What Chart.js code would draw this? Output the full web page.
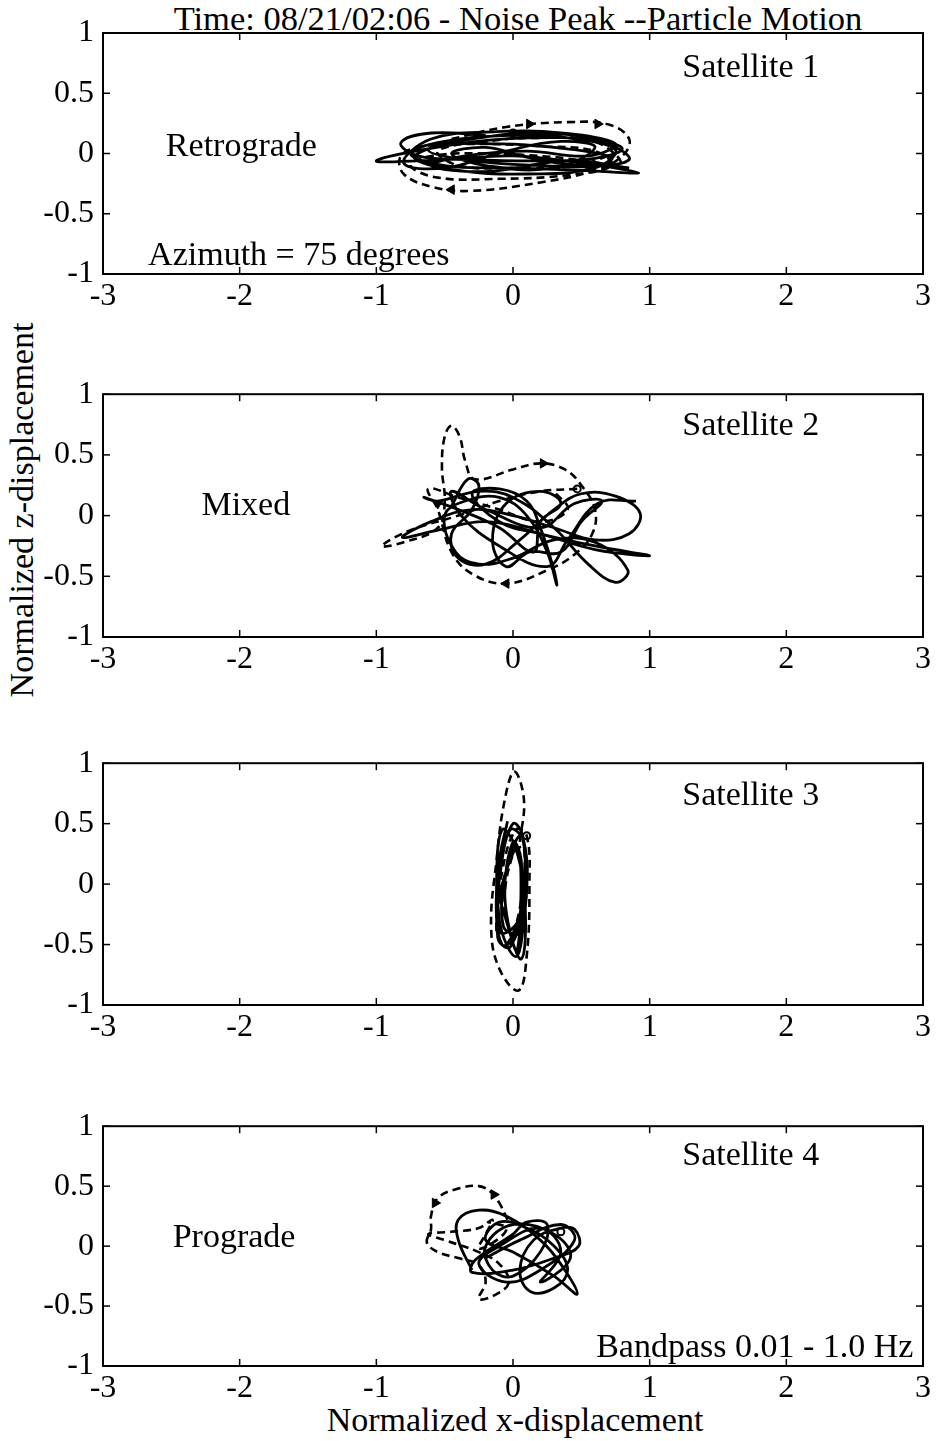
<!DOCTYPE html>
<html>
<head>
<meta charset="utf-8">
<script src="https://cdn.jsdelivr.net/npm/chart.js@4/dist/chart.umd.min.js"></script>
<style>
  html, body { margin: 0; padding: 0; background: #fff; }
  #wrap { position: relative; width: 937px; height: 1441px; overflow: hidden; background: #fff; }
  #wrap canvas { position: absolute; left: 0; }
  .lbl { position: absolute; font-family: 'Liberation Serif', 'Times New Roman', serif; color: #000; white-space: nowrap; }
  #title { left: 518px; top: 1px; font-size: 34.5px; line-height: 34px; transform: translateX(-50%); }
  #xtitle { left: 515px; top: 1402px; font-size: 34px; line-height: 36px; transform: translateX(-50%); }
  #ytitle { left: 22px; top: 510px; font-size: 34px; line-height: 36px; transform: translate(-50%, -50%) rotate(-90deg); }
</style>
</head>
<body>
<div id="wrap">
  <div class="lbl" id="title">Time: 08/21/02:06 - Noise Peak --Particle Motion</div>
  <div class="lbl" id="ytitle">Normalized z-displacement</div>
  <div class="lbl" id="xtitle">Normalized x-displacement</div>
  <canvas id="sat1"></canvas>
  <canvas id="sat2"></canvas>
  <canvas id="sat3"></canvas>
  <canvas id="sat4"></canvas>
</div>
<script>
// Axis ticks shared by all four panels
const xTicks = [-3, -2, -1, 0, 1, 2, 3];
const zTicks = [-1, -0.5, 0, 0.5, 1];

// Satellite 1 particle motion (x, z): vertical (solid) and horizontal (dashed) components
const sat1Solid = [
  [-0.2,0.15],[-0.6,0.17],[-0.82,0.09],[-0.7,-0.02],[-0.3,-0.05],[0.2,-0.06],[0.6,-0.04],[0.8,0.04],
  [0.6,0.11],[0.1,0.13],[-0.4,0.08],[-1.0,-0.06],[-0.5,-0.05],[0.0,-0.02],[0.5,-0.08],[0.92,-0.16],
  [0.5,-0.14],[0.0,-0.12],[-0.5,-0.1],[-0.75,0.0],[-0.5,0.1],[0.0,0.15],[0.4,0.13],[0.75,0.03],
  [0.6,-0.12],[0.1,-0.17],[-0.4,-0.14],[-0.72,-0.04],[-0.55,0.06],[-0.1,0.08],[0.3,0.05],[0.72,-0.03],
  [0.65,-0.1],[0.2,-0.1],[-0.3,-0.06],[-0.62,0.03],[-0.3,0.12],[0.2,0.17],[0.65,0.1],[0.85,-0.05],
  [0.5,-0.1],[0.1,-0.03],[-0.2,0.05],[-0.45,0.0],[-0.2,-0.1],[0.3,-0.12],[0.6,0.05],[0.35,0.1],
  [-0.05,0.02],[-0.5,-0.12],[-0.8,-0.08],[-0.6,0.12],[-0.15,0.18],[0.35,0.17],[0.75,0.08],[0.55,-0.02],
  [0.1,0.02],[-0.35,-0.02],[-0.6,-0.1],[-0.2,-0.15],[0.4,-0.06],[0.85,-0.12]
];
const sat1Dashed = [
  [-0.45,0.12],[-0.05,0.22],[0.4,0.26],[0.7,0.24],[0.85,0.12],[0.8,-0.02],[0.6,-0.14],[0.2,-0.24],
  [-0.3,-0.31],[-0.58,-0.28],[-0.8,-0.17],[-0.82,-0.02],[-0.65,0.06],[-0.3,0.08],[0.2,0.06],[0.6,0.02],
  [0.72,-0.1],[0.4,-0.18],[-0.1,-0.21],[-0.55,-0.2],[-0.75,-0.1],[-0.6,-0.02],[-0.2,0.0],[0.3,-0.03],
  [0.78,-0.08],[0.6,0.1],[0.2,0.13],[-0.2,0.1],[-0.55,0.02],[-0.4,-0.1],[0.0,-0.12],[0.45,-0.1],
  [0.8,0.02]
];
const sat1Arrows = [[0.12,0.245,90],[0.62,0.245,90],[-0.45,-0.3,270]];
const sat1Rings = [[0.0,0.17]];

// Satellite 2 particle motion
const sat2Solid = [
  [-0.45,0.08],[-0.33,0.3],[-0.25,0.25],[-0.3,0.05],[-0.45,-0.15],[-0.4,-0.35],[-0.2,-0.4],[0.05,-0.2],
  [0.3,0.05],[0.5,0.18],[0.75,0.16],[0.93,0.02],[0.85,-0.15],[0.6,-0.2],[0.3,-0.1],[0.0,0.0],
  [-0.3,0.05],[-0.6,-0.05],[-0.81,-0.18],[-0.55,-0.12],[-0.2,-0.05],[0.2,-0.15],[0.6,-0.28],[1.0,-0.33],
  [0.6,-0.25],[0.2,-0.15],[-0.1,-0.05],[-0.3,0.18],[-0.1,0.22],[0.1,0.12],[0.2,-0.1],[0.3,-0.45],
  [0.32,-0.57],[0.25,-0.3],[0.1,0.0],[-0.1,0.15],[-0.35,0.12],[-0.5,0.0],[-0.42,-0.3],[-0.25,-0.4],
  [0.0,-0.35],[0.3,-0.2],[0.6,-0.22],[0.84,-0.45],[0.75,-0.55],[0.55,-0.4],[0.3,-0.1],[0.0,0.15],
  [-0.25,0.2],[-0.55,0.12],[-0.65,0.15],[-0.4,0.05],[-0.1,-0.1],[0.15,-0.3],[0.2,-0.05],[0.35,0.1],
  [0.2,0.2],[-0.05,0.1],[-0.15,-0.2],[-0.05,-0.42],[0.12,-0.3],[0.35,-0.3],[0.5,-0.05],[0.65,0.12],
  [0.45,0.1],[0.2,-0.1],[-0.2,0.05],[-0.45,0.2],[-0.38,0.0],[-0.1,-0.25],[0.25,-0.42],[0.4,-0.2],
  [0.62,0.1],[0.9,0.12]
];
const sat2Dashed = [
  [0.47,0.22],[0.2,0.2],[-0.1,0.12],[-0.4,0.0],[-0.75,-0.12],[-0.96,-0.25],[-0.8,-0.22],[-0.55,-0.1],
  [-0.5,0.1],[-0.52,0.4],[-0.5,0.65],[-0.45,0.74],[-0.39,0.65],[-0.35,0.45],[-0.28,0.3],[0.0,0.38],
  [0.2,0.43],[0.38,0.38],[0.5,0.25],[0.6,0.05],[0.58,-0.15],[0.45,-0.32],[0.25,-0.45],[-0.05,-0.56],
  [-0.3,-0.48],[-0.45,-0.3],[-0.55,0.05],[-0.62,0.22],[-0.4,0.15],[-0.1,0.05],[0.2,-0.05],[0.4,0.05],
  [0.3,0.2]
];
const sat2Arrows = [[0.22,0.43,90],[-0.05,-0.56,270],[-0.55,0.1,180]];
const sat2Rings = [[0.47,0.22]];

// Satellite 3 particle motion
const sat3Solid = [
  [-0.04,0.52],[-0.1,0.2],[-0.12,-0.2],[-0.08,-0.5],[0.0,-0.45],[0.08,0.0],[0.07,0.4],[0.0,0.5],
  [-0.08,0.2],[-0.1,-0.3],[0.02,-0.6],[0.08,-0.3],[0.1,0.2],[0.05,0.4],[-0.05,0.1],[-0.07,-0.35],
  [0.05,-0.4],[0.06,0.2],[0.0,0.35],[-0.06,-0.1],[0.03,-0.55],[0.04,0.3],[-0.09,-0.05],[-0.11,-0.45],
  [-0.02,-0.52],[0.09,-0.1],[0.08,0.35],[-0.02,0.45],[-0.11,0.05],[-0.05,-0.3],[0.06,-0.62],[0.09,-0.2],
  [0.02,0.3],[-0.08,0.45],[-0.12,0.0],[-0.09,-0.4],[0.04,-0.3],[0.1,0.1],[0.06,0.45]
];
const sat3Dashed = [
  [0.05,0.35],[0.08,0.7],[0.01,0.93],[-0.06,0.7],[-0.12,0.2],[-0.16,-0.36],[-0.1,-0.7],[0.04,-0.88],
  [0.1,-0.6],[0.12,0.0],[0.1,0.4],[0.02,0.45],[-0.08,0.1],[-0.12,-0.4],[-0.05,-0.5],[0.05,-0.2],
  [0.08,0.3],[0.0,0.25],[-0.06,-0.2],[0.03,-0.45],[0.1,-0.1]
];
const sat3Arrows = [];
const sat3Rings = [[0.1,0.4]];

// Satellite 4 particle motion
const sat4Solid = [
  [-0.3,-0.2],[-0.4,0.05],[-0.4,0.22],[-0.25,0.3],[-0.05,0.25],[0.2,0.05],[0.35,-0.15],[0.47,-0.4],
  [0.3,-0.25],[0.0,-0.05],[-0.2,0.05],[-0.1,0.2],[0.1,0.15],[0.3,0.0],[0.4,-0.2],[0.3,-0.35],
  [0.13,-0.38],[0.05,-0.2],[0.15,0.05],[0.35,0.15],[0.45,0.14],[0.48,0.0],[0.3,-0.1],[0.0,-0.2],
  [-0.3,-0.22],[-0.28,-0.12],[0.0,0.1],[0.1,0.2],[0.25,0.18],[0.2,-0.05],[0.0,-0.25],[-0.15,-0.2],
  [-0.2,0.0],[0.0,0.18],[0.3,0.1],[0.42,-0.1],[0.2,-0.3],[0.35,-0.05],[0.2,0.15],[-0.1,0.0],
  [-0.25,-0.15],[-0.05,-0.3],[0.2,-0.2],[0.45,0.05],[0.35,0.18],[0.05,0.05],[-0.2,-0.1]
];
const sat4Dashed = [
  [-0.04,0.22],[-0.1,0.36],[-0.15,0.44],[-0.25,0.5],[-0.4,0.48],[-0.55,0.4],[-0.6,0.25],[-0.6,0.14],
  [-0.63,0.03],[-0.55,-0.05],[-0.4,-0.1],[-0.25,-0.16],[-0.2,-0.3],[-0.25,-0.44],[-0.12,-0.4],[-0.03,-0.3],
  [-0.1,-0.15],[-0.25,-0.05],[-0.5,0.05],[-0.62,0.1],[-0.45,0.12],[-0.25,0.15],[-0.15,0.22],[-0.2,0.1],
  [-0.25,-0.02],[-0.12,0.05],[-0.05,0.15],[-0.18,0.2]
];
const sat4Arrows = [[-0.57,0.36,210],[-0.14,0.43,330]];
const sat4Rings = [[0.35,0.12]];

const SERIF = "'Liberation Serif', 'Times New Roman', serif";

// Box, inward tick marks and in-panel annotations
const framePlugin = {
  id: 'frame',
  afterDraw(chart, args, opts) {
    const { ctx, chartArea: a, scales: { x, y } } = chart;
    ctx.save();
    ctx.strokeStyle = '#000';
    ctx.lineWidth = 2;
    ctx.strokeRect(a.left, a.top, a.right - a.left, a.bottom - a.top);
    ctx.lineWidth = 1.5;
    const L = 7;
    const seg = (x1, y1, x2, y2) => { ctx.beginPath(); ctx.moveTo(x1, y1); ctx.lineTo(x2, y2); ctx.stroke(); };
    x.ticks.forEach(t => {
      const p = x.getPixelForValue(t.value);
      seg(p, a.bottom, p, a.bottom - L);
      seg(p, a.top, p, a.top + L);
    });
    y.ticks.forEach(t => {
      const p = y.getPixelForValue(t.value);
      seg(a.left, p, a.left + L, p);
      seg(a.right, p, a.right - L, p);
    });
    ctx.fillStyle = '#000';
    ctx.font = '34px ' + SERIF;
    ctx.textBaseline = 'middle';
    (opts.notes || []).forEach(n => {
      ctx.textAlign = n.align;
      ctx.fillText(n.text, x.getPixelForValue(n.x), y.getPixelForValue(n.y));
    });
    ctx.restore();
  }
};

function toPts(list) { return list.map(p => ({ x: p[0], y: p[1] })); }

function makePanel(id, boxTop, boxBottom, padTop, solid, dashed, arrows, rings, notes) {
  const axisH = 45;
  const cv = document.getElementById(id);
  const h = padTop + (boxBottom - boxTop) + axisH;
  cv.width = 937; cv.height = h;
  cv.style.width = '937px'; cv.style.height = h + 'px';
  cv.style.top = (boxTop - padTop) + 'px';
  const line = { borderColor: '#000', pointRadius: 0, tension: 0.4, fill: false, showLine: true };
  new Chart(cv, {
    type: 'line',
    data: {
      datasets: [
        Object.assign({ label: 'vertical', data: toPts(solid), borderWidth: 2.8 }, line),
        Object.assign({ label: 'horizontal', data: toPts(dashed), borderWidth: 2.6, borderDash: [8, 5] }, line),
        { label: 'arrows', data: toPts(arrows), showLine: false, pointStyle: 'triangle',
          pointRadius: 5.5, pointRotation: arrows.map(a => a[2]), backgroundColor: '#000', borderColor: '#000', borderWidth: 1 },
        { label: 'start', data: toPts(rings), showLine: false, pointStyle: 'circle',
          pointRadius: 3.5, backgroundColor: '#fff', borderColor: '#000', borderWidth: 2 }
      ]
    },
    options: {
      responsive: false,
      animation: false,
      devicePixelRatio: 1,
      layout: { padding: { top: padTop, right: 14, left: 0, bottom: 0 } },
      plugins: { legend: { display: false }, tooltip: { enabled: false }, frame: { notes } },
      scales: {
        x: {
          type: 'linear', min: xTicks[0], max: xTicks[xTicks.length - 1],
          afterBuildTicks: s => { s.ticks = xTicks.map(v => ({ value: v })); },
          afterFit: s => { s.height = axisH; },
          grid: { display: false, drawTicks: false }, border: { display: false },
          ticks: { color: '#000', padding: 3, maxRotation: 0, callback: v => String(v),
                   font: { family: SERIF, size: 32 } }
        },
        y: {
          type: 'linear', min: zTicks[0], max: zTicks[zTicks.length - 1],
          afterBuildTicks: s => { s.ticks = zTicks.map(v => ({ value: v })); },
          afterFit: s => { s.width = 103; },
          grid: { display: false, drawTicks: false }, border: { display: false },
          ticks: { color: '#000', padding: 9, callback: v => String(v),
                   font: { family: SERIF, size: 32 } }
        }
      }
    },
    plugins: [framePlugin]
  });
}

makePanel('sat1', 33, 274, 33, sat1Solid, sat1Dashed, sat1Arrows, sat1Rings, [
  { text: 'Satellite 1', x: 2.24, y: 0.71, align: 'right' },
  { text: 'Retrograde', x: -2.54, y: 0.05, align: 'left' },
  { text: 'Azimuth = 75 degrees', x: -2.67, y: -0.85, align: 'left' }
]);
makePanel('sat2', 391, 637, 25, sat2Solid, sat2Dashed, sat2Arrows, sat2Rings, [
  { text: 'Satellite 2', x: 2.24, y: 0.74, align: 'right' },
  { text: 'Mixed', x: -2.28, y: 0.08, align: 'left' }
]);
makePanel('sat3', 760, 1005, 25, sat3Solid, sat3Dashed, sat3Arrows, sat3Rings, [
  { text: 'Satellite 3', x: 2.24, y: 0.73, align: 'right' }
]);
makePanel('sat4', 1123, 1366, 25, sat4Solid, sat4Dashed, sat4Arrows, sat4Rings, [
  { text: 'Satellite 4', x: 2.24, y: 0.75, align: 'right' },
  { text: 'Prograde', x: -2.49, y: 0.07, align: 'left' },
  { text: 'Bandpass 0.01 - 1.0 Hz', x: 2.93, y: -0.85, align: 'right' }
]);
</script>
</body>
</html>
